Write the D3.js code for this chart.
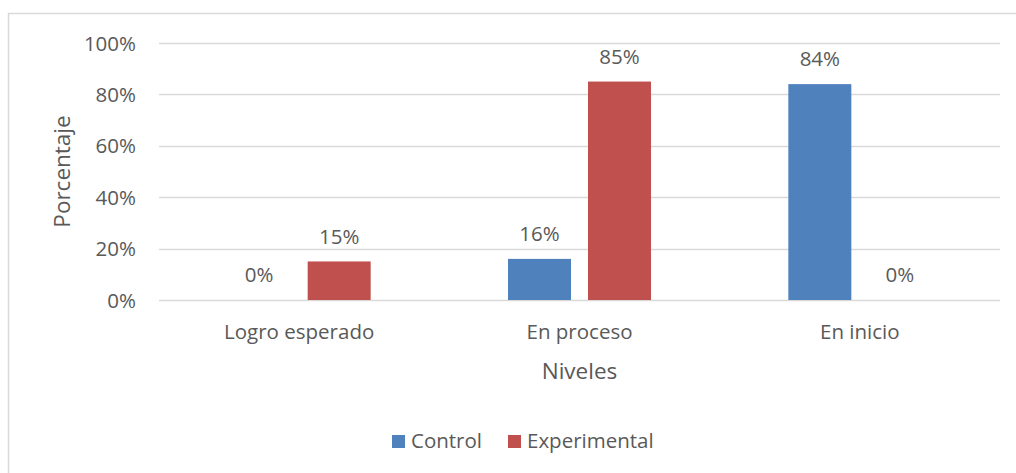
<!DOCTYPE html>
<html>
<head>
<meta charset="utf-8">
<script src="https://cdn.jsdelivr.net/npm/d3@7"></script>
<style>
  html, body { margin: 0; padding: 0; background: #fff; }
  svg text { font-family: "Open Sans", "Noto Sans", sans-serif; fill: #595959; }
</style>
</head>
<body>
<svg id="chart" width="1016" height="473"></svg>
<script>
// Levels and results per group (percent)
const categories = ["Logro esperado", "En proceso", "En inicio"];
const seriesNames = ["Control", "Experimental"];
const controlValues = [0, 16, 84];
const experimentalValues = [15, 85, 0];
const yTicks = [0, 20, 40, 60, 80, 100];
const colors = ["#4F81BD", "#C0504D"];

const svg = d3.select("#chart");
const plot = { left: 159, right: 1000, top: 43, bottom: 300 };
const labelSize = 20.5;
const titleSize = 22.5;

// outer chart frame
svg.append("rect")
  .attr("x", 8.5).attr("y", 13.5)
  .attr("width", 1020).attr("height", 470)
  .attr("fill", "#fff").attr("stroke", "#D9D9D9").attr("stroke-width", 1.5);

const x0 = d3.scaleBand().domain(categories).range([plot.left, plot.right]);
const bw = x0.bandwidth();
// two bars per group: 63px wide, 17px apart, centred in the band
const groupSpan = 143;
const x1 = d3.scaleBand().domain(seriesNames)
  .range([bw / 2 - groupSpan / 2, bw / 2 + groupSpan / 2])
  .paddingInner(17 / 80).paddingOuter(0);
const y = d3.scaleLinear().domain([0, 100]).range([plot.bottom, plot.top]);

// horizontal gridlines
svg.append("g").selectAll("line").data(yTicks).join("line")
  .attr("x1", plot.left).attr("x2", plot.right)
  .attr("y1", d => Math.round(y(d)) + 0.5).attr("y2", d => Math.round(y(d)) + 0.5)
  .attr("stroke", "#D9D9D9").attr("stroke-width", 1.5);

// y axis labels
const yAxis = d3.axisLeft(y).tickValues(yTicks).tickFormat(d => d + "%").tickSize(0).tickPadding(0);
const gy = svg.append("g").attr("transform", `translate(${plot.left - 23},0)`).call(yAxis);
gy.select(".domain").remove();
gy.selectAll("text").attr("font-size", labelSize).attr("dy", "0.35em");

// x axis labels
const xAxis = d3.axisBottom(x0).tickSize(0).tickPadding(0);
const gx = svg.append("g").attr("transform", `translate(0,${plot.bottom + 32})`).call(xAxis);
gx.select(".domain").remove();
gx.selectAll("text").attr("font-size", labelSize).attr("dy", "0.35em");

const rows = categories.map((c, i) => ({
  cat: c,
  vals: [controlValues[i], experimentalValues[i]]
}));

const groups = svg.append("g").selectAll("g").data(rows).join("g")
  .attr("transform", d => `translate(${x0(d.cat)},0)`);

groups.selectAll("rect").data(d => d.vals.map((v, j) => ({ v, s: seriesNames[j], j })))
  .join("rect")
  .attr("x", d => x1(d.s))
  .attr("width", x1.bandwidth())
  .attr("y", d => y(d.v))
  .attr("height", d => y(0) - y(d.v))
  .attr("fill", d => colors[d.j]);

groups.selectAll("text.val").data(d => d.vals.map((v, j) => ({ v, s: seriesNames[j], j })))
  .join("text")
  .attr("class", "val")
  .attr("x", d => x1(d.s) + x1.bandwidth() / 2)
  .attr("y", d => y(d.v) - 25)
  .attr("dy", "0.35em")
  .attr("text-anchor", "middle")
  .attr("font-size", labelSize)
  .text(d => d.v + "%");

// axis titles
svg.append("text")
  .attr("transform", `translate(62,${(plot.top + plot.bottom) / 2}) rotate(-90)`)
  .attr("text-anchor", "middle").attr("dy", "0.35em")
  .attr("font-size", titleSize)
  .text("Porcentaje");

svg.append("text")
  .attr("x", (plot.left + plot.right) / 2).attr("y", 371)
  .attr("text-anchor", "middle").attr("dy", "0.35em")
  .attr("font-size", titleSize)
  .text("Niveles");

// legend
const legendItems = [
  { name: seriesNames[0], color: colors[0], x: 392 },
  { name: seriesNames[1], color: colors[1], x: 508 }
];
const lg = svg.append("g").selectAll("g").data(legendItems).join("g")
  .attr("transform", d => `translate(${d.x},441)`);
lg.append("rect").attr("x", 0).attr("y", -6).attr("width", 13).attr("height", 13).attr("fill", d => d.color);
lg.append("text").attr("x", 19).attr("y", 0).attr("dy", "0.35em").attr("font-size", labelSize).text(d => d.name);
</script>
</body>
</html>
